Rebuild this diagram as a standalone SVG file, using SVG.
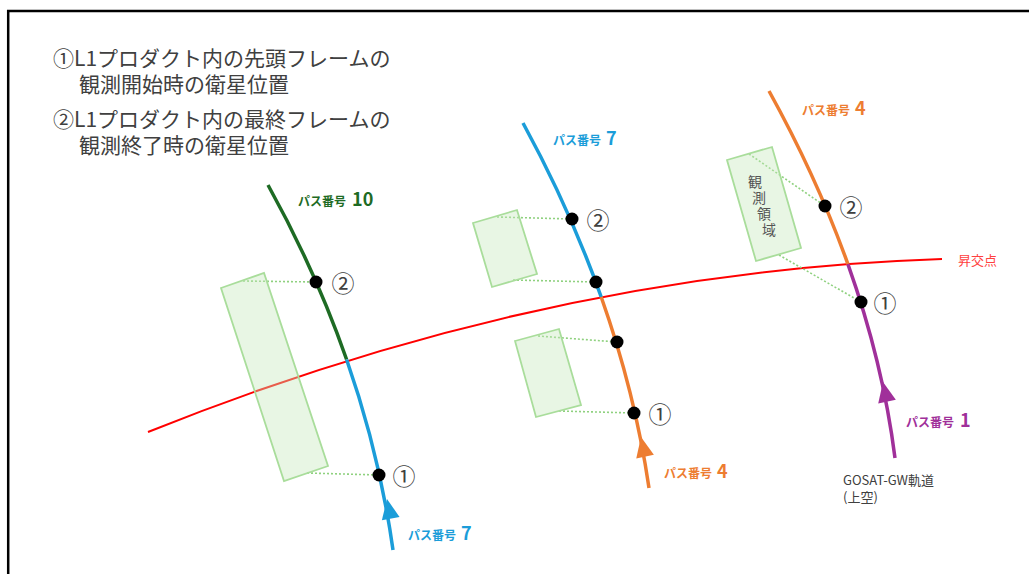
<svg xmlns="http://www.w3.org/2000/svg" width="1029" height="574" viewBox="0 0 1029 574">
<style>
.t{font-family:"Noto Sans CJK JP","Noto Sans",sans-serif;}
.note{font-size:21px;fill:#404040;}
.lbl{font-weight:bold;}
.s{font-size:12px;}
.n{font-size:18px;}
.num{font-size:23px;fill:#404040;text-anchor:middle;dominant-baseline:central;}
.orb{fill:none;stroke-width:3.5;stroke-linecap:butt;}
.box{fill:#c5e8bb;fill-opacity:0.4;stroke:#a9dd9b;stroke-width:1.8;}
.dot{fill:#000;}
.dl{stroke:#8fd17f;stroke-width:1.6;stroke-dasharray:2 2;fill:none;}
.reg{font-size:14px;fill:#555;text-anchor:middle;dominant-baseline:central;}
</style>
<defs>
<path id="arr" d="M0,0 L-9,20 L9,20 Z"/>
</defs>
<rect width="1029" height="574" fill="#fff"/>
<g id="frame" stroke="#000" stroke-width="2.5" fill="none">
<line x1="7" y1="11" x2="1029" y2="11"/>
<line x1="8.2" y1="10" x2="8.2" y2="574"/>
</g>
<g id="legend" class="t note">
<text x="53" y="66">①L1プロダクト内の先頭フレームの</text>
<text x="79" y="92">観測開始時の衛星位置</text>
<text x="53" y="127">②L1プロダクト内の最終フレームの</text>
<text x="79" y="153">観測終了時の衛星位置</text>
</g>
<g id="connectors">
<path id="ascending-node-line" d="M148,432 Q545,272 942,259" fill="none" stroke="#ff0000" stroke-width="2"/>
<path d="M268,185 Q315.8,271.1 346.6,359.5" class="orb" stroke="#1e6b24"/>
<path d="M346.6,359.5 Q379.4,453.4 393,550" class="orb" stroke="#1b9dd9"/>
<path d="M523,123 Q570.3,209.8 601.2,297" class="orb" stroke="#1b9dd9"/>
<path d="M601.2,297 Q634.9,392.2 649,488" class="orb" stroke="#ed7d31"/>
<path d="M769,91 Q817.2,178.2 847.9,264.1" class="orb" stroke="#ed7d31"/>
<path d="M847.9,264.1 Q882.8,361.9 895,458" class="orb" stroke="#a0309a"/>
<use href="#arr" transform="translate(387,499) rotate(-10.7)" fill="#1b9dd9"/>
<use href="#arr" transform="translate(641,437) rotate(-11.7)" fill="#ed7d31"/>
<use href="#arr" transform="translate(883,382) rotate(-11.6)" fill="#a0309a"/>
<line class="dl" x1="243" y1="281" x2="316" y2="282"/>
<line class="dl" x1="307" y1="473" x2="379" y2="475"/>
<line class="dl" x1="497" y1="217" x2="572" y2="219"/>
<line class="dl" x1="513" y1="280" x2="596" y2="282"/>
<line class="dl" x1="538" y1="336" x2="617" y2="342"/>
<line class="dl" x1="559" y1="411" x2="634" y2="413"/>
<line class="dl" x1="749" y1="154" x2="825" y2="206"/>
<line class="dl" x1="779" y1="255" x2="861" y2="302"/>
</g>
<g id="region-left">
<polygon class="box" points="221,288 264,273 328,466 284,481"/>
</g>
<g id="region-mid-upper">
<polygon class="box" points="473,223 517,210 537,274 492,287"/>
</g>
<g id="region-mid-lower">
<polygon class="box" points="515,341 559,329 581,405 536,417"/>
</g>
<g id="region-right">
<polygon class="box" points="727,160 772,147 801,248 756,261"/>
<g class="t reg">
<text x="755" y="181">観</text>
<text x="759" y="197">測</text>
<text x="764" y="213">領</text>
<text x="769" y="229">域</text>
</g>
</g>
<g id="points">
<circle class="dot" cx="316" cy="282" r="6.5"/>
<circle class="dot" cx="379" cy="475" r="6.5"/>
<circle class="dot" cx="572" cy="219" r="6.5"/>
<circle class="dot" cx="596" cy="282" r="6.5"/>
<circle class="dot" cx="617" cy="342" r="6.5"/>
<circle class="dot" cx="634" cy="413" r="6.5"/>
<circle class="dot" cx="825" cy="206" r="6.5"/>
<circle class="dot" cx="861" cy="302" r="6.5"/>
<g class="t num">
<text x="343" y="282">②</text>
<text x="404" y="475">①</text>
<text x="598" y="219">②</text>
<text x="660" y="413">①</text>
<text x="851" y="206">②</text>
<text x="885" y="302">①</text>
</g>
</g>
<g id="labels" class="t lbl">
<text x="298" y="206" fill="#1e6b24"><tspan class="s">パス番号</tspan><tspan class="n" dx="6">10</tspan></text>
<text x="553" y="145" fill="#1b9dd9"><tspan class="s">パス番号</tspan><tspan class="n" dx="5">7</tspan></text>
<text x="408" y="540" fill="#1b9dd9"><tspan class="s">パス番号</tspan><tspan class="n" dx="5">7</tspan></text>
<text x="802" y="115" fill="#ed7d31"><tspan class="s">パス番号</tspan><tspan class="n" dx="5">4</tspan></text>
<text x="664" y="478" fill="#ed7d31"><tspan class="s">パス番号</tspan><tspan class="n" dx="5">4</tspan></text>
<text x="906" y="427" fill="#a0309a"><tspan class="s">パス番号</tspan><tspan class="n" dx="6">1</tspan></text>
</g>
<g id="notes" class="t">
<text x="958" y="265" font-size="13" fill="#ff4040">昇交点</text>
<text x="843" y="485" font-size="13" fill="#404040">GOSAT-GW軌道</text>
<text x="843" y="502" font-size="13" fill="#404040">(上空)</text>
</g>
</svg>
